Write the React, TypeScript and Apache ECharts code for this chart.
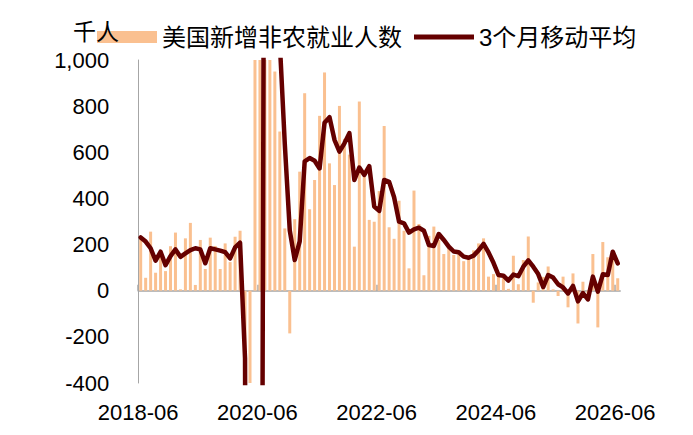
import React, { useEffect, useRef } from 'react';
import * as echarts from 'echarts';

// ---- data ----
const startYear = 2018;
const startMonth = 6;
const monthCount = 97;
const months: string[] = [];
for (let k = 0; k < monthCount; k++) {
  const m = startMonth - 1 + k;
  const y = startYear + Math.floor(m / 12);
  const mm = (m % 12) + 1;
  months.push(`${y}-${String(mm).padStart(2, '0')}`);
}
// month boundaries (one more than months), used only for the zero axis ticks
const boundaries: string[] = [];
for (let k = 0; k <= monthCount; k++) boundaries.push('b' + k);

const tickLabels = ['2018-06', '2020-06', '2022-06', '2024-06', '2026-06'];
const seriesNames = ['美国新增非农就业人数', '3个月移动平均'];
const yUnit = '千人';

// 美国新增非农就业人数 (千人), 2018-06 .. 2026-06
const payrolls = [
  234, 56, 256, 78, 173, 85, 193, 252, 6, 227, 294, 25,
  220, 94, 230, 194, 94, 205, 124, 234, 260, -1373, -20477, 2725,
  4781, 1726, 1583, 950, 690, 270, -185, 310, 516, 856, 353, 480,
  758, 946, 552, 458, 801, 658, 590, 191, 820, 495, 307, 299,
  432, 714, 275, 225, 390, 260, 97, 434, 289, 67, 238, 278,
  220, 159, 191, 155, 160, 128, 138, 175, 205, 227, 61, 72,
  65, 55, 8, 152, 28, 133, 235, -52, 36, 60, 105, 6,
  -23, 61, -72, 75, -142, 39, -11, 159, -159, 211, 145, 151,
  54,
];

// 3个月移动平均 (千人)
const movingAvg3 = [
  231, 213, 184, 130, 169, 111, 150, 179, 147, 162, 176, 184,
  179, 119, 184, 179, 174, 167, 140, 188, 208, -293, -7197, -6375,
  -4324, 3077, 2697, 1420, 1074, 637, 262, 133, 214, 561, 575, 563,
  530, 728, 752, 654, 603, 639, 683, 480, 534, 502, 540, 365,
  346, 480, 472, 405, 299, 292, 252, 266, 273, 260, 198, 194,
  246, 220, 191, 170, 167, 148, 143, 152, 175, 203, 166, 121,
  68, 65, 44, 70, 63, 104, 132, 104, 72, 16, 68, 57,
  28, 14, -12, 21, -46, -10, -38, 61, -4, 71, 68, 169,
  118,
];

const yMin = -400;
const yMax = 1000;
const yStep = 200;

const FONT = "'Liberation Sans', Arial, 'Noto Sans CJK SC', sans-serif";
const BAR_COLOR = '#FAC090';
const LINE_COLOR = '#650000';
const AXIS_COLOR = '#A6A6A6';

function fmtThousands(v: number): string {
  const s = String(Math.abs(v)).replace(/\B(?=(\d{3})+(?!\d))/g, ',');
  return v < 0 ? '-' + s : s;
}

export default function App() {
  const ref = useRef<HTMLDivElement>(null);

  useEffect(() => {
    if (!ref.current) return;
    const chart = echarts.init(ref.current, undefined, { renderer: 'svg' });
    const option: any = {
      animation: false,
      textStyle: { fontFamily: FONT },
      grid: { left: 138.2, right: 72.8, top: 60, bottom: 52, containLabel: false },
      legend: {
        left: 92,
        top: 20,
        itemWidth: 60,
        itemHeight: 12,
        itemGap: 12,
        textStyle: { fontSize: 24, color: '#000', fontFamily: FONT },
        data: [
          { name: seriesNames[0], icon: 'rect' },
          { name: seriesNames[1], icon: 'path://M0,0 L60,0 L60,4.8 L0,4.8 Z' },
        ],
      },
      graphic: [
        {
          type: 'text',
          left: 73,
          top: 20,
          z: 100,
          style: { text: yUnit, fontSize: 23, fill: '#000', fontFamily: FONT },
        },
      ],
      xAxis: [
        {
          type: 'category',
          data: months,
          boundaryGap: true,
          position: 'bottom',
          axisLine: { show: false, onZero: false },
          axisTick: { show: false },
          axisLabel: {
            interval: 23,
            fontSize: 22,
            color: '#000',
            margin: 18,
            padding: [0, 5, 0, 0],
            fontFamily: FONT,
            formatter: (v: string) => (tickLabels.indexOf(v) >= 0 ? v : ''),
          },
        },
        {
          type: 'category',
          data: boundaries,
          boundaryGap: false,
          position: 'bottom',
          axisLine: { show: true, onZero: true, lineStyle: { color: AXIS_COLOR, width: 1.5 } },
          axisTick: { show: true, inside: true, interval: 23, length: 6, lineStyle: { color: AXIS_COLOR, width: 1.5 } },
          axisLabel: { show: false },
        },
      ],
      yAxis: {
        type: 'value',
        min: yMin,
        max: yMax,
        interval: yStep,
        axisLine: { show: true, lineStyle: { color: AXIS_COLOR, width: 1 } },
        axisTick: { show: false },
        splitLine: { show: false },
        axisLabel: {
          fontSize: 22,
          color: '#000',
          margin: 29,
          fontFamily: FONT,
          formatter: (v: number) => fmtThousands(v),
        },
      },
      series: [
        {
          name: seriesNames[0],
          type: 'bar',
          data: payrolls,
          barWidth: 3,
          xAxisIndex: 0,
          clip: true,
          itemStyle: { color: BAR_COLOR },
        },
        {
          name: seriesNames[1],
          type: 'line',
          data: movingAvg3,
          xAxisIndex: 0,
          clip: true,
          symbol: 'none',
          z: 3,
          lineStyle: { color: LINE_COLOR, width: 4.5, join: 'round', cap: 'round' },
          itemStyle: { color: LINE_COLOR },
        },
      ],
    };
    chart.setOption(option);
    return () => chart.dispose();
  }, []);

  return (
    <div
      ref={ref}
      style={{ position: 'fixed', left: 0, top: 0, width: 693, height: 435, background: '#fff' }}
    />
  );
}
